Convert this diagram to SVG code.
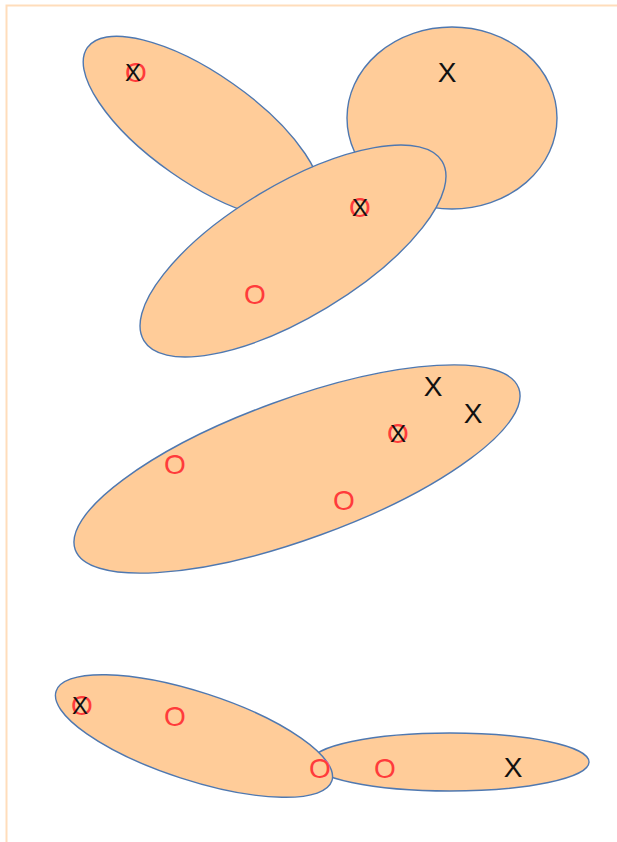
<svg xmlns="http://www.w3.org/2000/svg" width="617" height="842" viewBox="0 0 617 842">
<style>
.e{fill:#FFCC99;stroke:#4F78B0;stroke-width:1.4}
.x{font-family:"Liberation Sans",Arial,sans-serif;font-size:28px;fill:#111;text-anchor:middle}
.o{font-family:"Liberation Sans",Arial,sans-serif;font-size:28px;fill:#FF3B3B;text-anchor:middle}
.xs{font-family:"Liberation Sans",Arial,sans-serif;font-size:24px;fill:#111;text-anchor:middle}
</style>
<rect width="617" height="842" fill="#fff"/>
<path d="M6.5,842 V5.5 H617" fill="none" stroke="#FFDDBB" stroke-width="2"/>
<g id="n1"><ellipse class="e" cx="202" cy="128" rx="140" ry="54" transform="rotate(35 202 128)"/></g>
<g id="n2"><ellipse class="e" cx="452" cy="118" rx="105" ry="91"/></g>
<g id="n3"><ellipse class="e" cx="293" cy="251" rx="174" ry="66" transform="rotate(-31 293 251)"/></g>
<g id="n4"><ellipse class="e" cx="297" cy="469" rx="236" ry="70" transform="rotate(-20 297 469)"/></g>
<g id="n6"><ellipse class="e" cx="450" cy="762" rx="139" ry="29"/></g>
<g id="n5"><ellipse class="e" cx="194" cy="736" rx="145" ry="44" transform="rotate(18 194 736)"/></g>
<g id="labels">
<text class="o" x="136" y="82">O</text><text class="xs" x="133" y="81">X</text>
<text class="x" x="447" y="82">X</text>
<text class="o" x="360" y="217">O</text><text class="xs" x="360" y="216">X</text>
<text class="o" x="255" y="304">O</text>
<text class="x" x="433" y="396">X</text>
<text class="x" x="473" y="423">X</text>
<text class="o" x="398" y="443">O</text><text class="xs" x="398" y="442">X</text>
<text class="o" x="175" y="474">O</text>
<text class="o" x="344" y="510">O</text>
<text class="o" x="82" y="715">O</text><text class="xs" x="80" y="714">X</text>
<text class="o" x="175" y="726">O</text>
<text class="o" x="320" y="778">O</text>
<text class="o" x="385" y="778">O</text>
<text class="x" x="513" y="777">X</text>
</g>
</svg>
